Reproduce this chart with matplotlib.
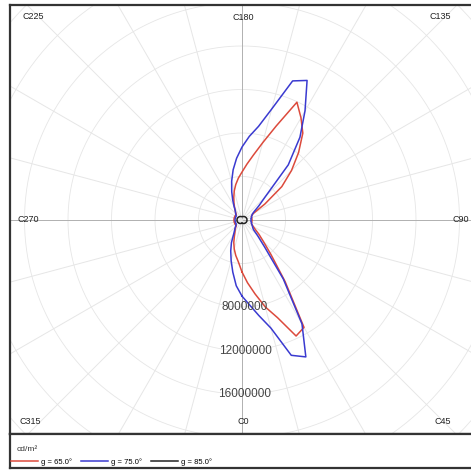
import numpy as np
import matplotlib.pyplot as plt

plt.rcParams['font.family'] = ['Liberation Sans', 'DejaVu Sans']

# C-plane angles (deg) and luminance in cd/m2
c_angles = list(range(0, 360, 5))
lum_65 = [4.78, 5.79, 6.90, 8.28, 9.56, 11.77, 11.40, 6.90, 4.14, 2.76,
          2.02, 1.47, 1.20, 1.01, 0.92, 0.92, 0.92, 0.92, 0.92, 0.92,
          0.92, 0.92, 0.92, 1.01, 1.20, 2.57, 4.78, 6.44, 8.09, 9.75,
          10.85, 11.95, 9.20, 7.36, 6.07, 5.15, 4.41, 3.86, 3.31, 2.76,
          2.21, 1.75, 1.38, 1.10, 0.92, 0.74, 0.74, 0.74, 0.74, 0.74,
          0.74, 0.74, 0.74, 0.74, 0.74, 0.74, 0.74, 0.74, 0.74, 0.74,
          0.74, 0.74, 0.74, 0.74, 0.92, 1.10, 1.29, 1.66, 2.21, 2.76,
          3.31, 3.86]
lum_75 = [7.00, 7.82, 8.92, 10.30, 13.24, 13.89, 11.03, 6.62, 3.22, 2.02,
          1.38, 1.20, 1.10, 1.01, 0.92, 0.92, 0.83, 0.83, 0.83, 0.83,
          0.83, 0.92, 0.92, 1.01, 1.10, 1.38, 2.02, 3.03, 6.62, 9.29,
          11.59, 14.16, 13.61, 10.57, 8.74, 7.72, 6.71, 5.70, 4.69, 3.68,
          2.76, 2.02, 1.47, 1.10, 0.92, 0.83, 0.74, 0.64, 0.64, 0.64,
          0.64, 0.64, 0.64, 0.64, 0.64, 0.64, 0.64, 0.64, 0.64, 0.64,
          0.64, 0.64, 0.74, 0.83, 1.01, 1.20, 1.56, 2.30, 3.03, 3.86,
          4.87, 6.07]
c_angles_85 = list(range(0, 360, 15))
lum_85 = [0.30, 0.33, 0.37, 0.41, 0.44, 0.46, 0.46, 0.46, 0.44, 0.41,
          0.37, 0.33, 0.30, 0.33, 0.37, 0.41, 0.44, 0.46, 0.46, 0.46,
          0.44, 0.41, 0.37, 0.33]

series = [
    ('g = 65.0°', c_angles, lum_65, '#dc4a3c'),
    ('g = 75.0°', c_angles, lum_75, '#3a3ad0'),
    ('g = 85.0°', c_angles_85, lum_85, '#222222'),
]

radial_ticks = [8000000, 12000000, 16000000]
c_label_text = ['C225', 'C180', 'C135', 'C270', 'C90', 'C315', 'C0', 'C45']
c_label_pos = [(0.050, 0.974), (0.502, 0.972), (0.927, 0.974),
               (0.039, 0.499), (0.972, 0.499),
               (0.043, 0.028), (0.502, 0.028), (0.933, 0.028)]

W, H = 471, 473
px_per_unit = 10.875 / 1e6   # pixels per cd/m2

fig = plt.figure(figsize=(W / 100, H / 100), dpi=100)
ax = fig.add_axes([10 / W, (H - 434) / H, 464 / W, 429 / H])
ax.set_xlim(-232 / px_per_unit, 232 / px_per_unit)
ax.set_ylim(-214 / px_per_unit, 215 / px_per_unit)
ax.set_xticks([])
ax.set_yticks([])
for s in ax.spines.values():
    s.set_linewidth(1.6)
    s.set_color('#333333')


def to_xy(c_deg, r):
    c = np.radians(np.asarray(c_deg, dtype=float))
    r = np.asarray(r, dtype=float)
    return r * np.sin(c), -r * np.cos(c)


# grid
rmax = 32e6
t = np.linspace(0, 360, 361)
for rr in np.arange(4e6, rmax + 1, 4e6):
    gx, gy = to_xy(t, np.full_like(t, rr))
    ax.plot(gx, gy, color='#e6e6e6', lw=0.6, zorder=1)
for ang in range(0, 360, 15):
    gx, gy = to_xy([ang, ang], [0, rmax])
    col = '#b0b0b0' if ang % 90 == 0 else '#e6e6e6'
    ax.plot(gx, gy, color=col, lw=0.7, zorder=1)

handles = []
for name, cs, vals, col in series:
    cc = list(cs) + [cs[0]]
    vv = (np.array(list(vals) + [vals[0]])) * 1e6
    x, y = to_xy(cc, vv)
    h, = ax.plot(x, y, color=col, lw=1.1, label=name, zorder=3)
    handles.append(h)

for v in radial_ticks:
    x, y = to_xy(0, v)
    ax.text(x + 3 / px_per_unit, y, str(v), ha='center', va='center',
            fontsize=8.5, color='#444444', zorder=4)

for txt, (fx, fy) in zip(c_label_text, c_label_pos):
    ax.text(fx, fy, txt, transform=ax.transAxes, ha='center', va='center',
            fontsize=6.5, color='#222222')

# legend box
lax = fig.add_axes([10 / W, (H - 468) / H, 464 / W, 34 / H])
lax.set_xticks([])
lax.set_yticks([])
for s in lax.spines.values():
    s.set_linewidth(1.6)
    s.set_color('#333333')
lax.text(0.015, 0.55, 'cd/m²', transform=lax.transAxes, ha='left',
         va='center', fontsize=6, color='#333333')
lax.legend(handles=handles, loc='center left', bbox_to_anchor=(0.002, 0.18),
           ncol=3, frameon=False, fontsize=5.5, handlelength=3.6,
           handletextpad=0.3, columnspacing=1.2, borderpad=0,
           borderaxespad=0)

fig.savefig('out.png', dpi=100)
